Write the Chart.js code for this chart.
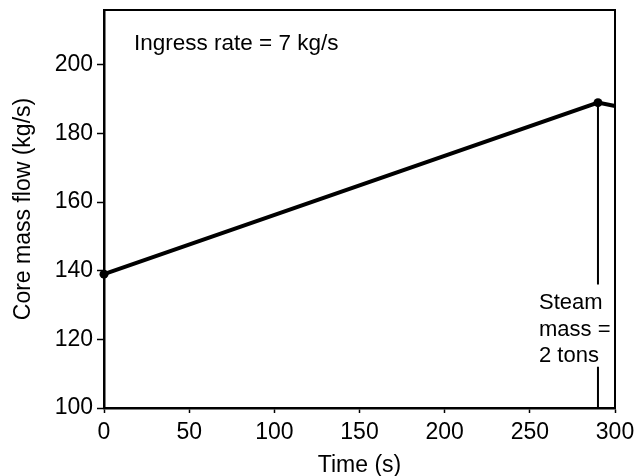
<!DOCTYPE html>
<html>
<head>
<meta charset="utf-8">
<script src="https://cdn.jsdelivr.net/npm/chart.js@4"></script>
<style>
  html, body { margin: 0; padding: 0; background: #fff; }
  #chart { display: block; }
</style>
</head>
<body>
<canvas id="chart" width="640" height="476"></canvas>
<script>
// curve
const timeS = [0, 290, 300];
const coreFlow = [139, 189, 188];
const markerRadius = [4.5, 4.5, 0];

// vertical marker at the steam-mass point (gap where the label sits)
const markerTime = [290, 290, 290, 290, 290];
const markerFlow = [189, 136, null, 112, 100];

const xTicks = [0, 50, 100, 150, 200, 250, 300];
const yTicks = [100, 120, 140, 160, 180, 200];

const ingressText = 'Ingress rate = 7 kg/s';
const steamText = ['Steam', 'mass =', '2 tons'];

const FONT = "'Liberation Sans', Arial, sans-serif";

const toPoints = (xs, ys) => xs.map((x, i) => ({ x: x, y: ys[i] }));

const framePlugin = {
    id: 'frame',
    afterDraw(chart) {
        const ctx = chart.ctx;
        const a = chart.chartArea;
        const xs = chart.scales.x;
        const ys = chart.scales.y;
        ctx.save();
        ctx.strokeStyle = '#000';
        ctx.lineWidth = 2;
        ctx.beginPath();
        ctx.moveTo(a.left, a.top);
        ctx.lineTo(a.right, a.top);
        ctx.lineTo(a.right, a.bottom);
        ctx.stroke();

        ctx.fillStyle = '#000';
        ctx.font = '22.5px ' + FONT;
        ctx.textBaseline = 'middle';
        ctx.textAlign = 'left';
        ctx.fillText(ingressText, a.left + 30, a.top + 34);

        ctx.font = '22px ' + FONT;
        let ty = ys.getPixelForValue(130.5);
        steamText.forEach(function(t) {
            ctx.fillText(t, xs.getPixelForValue(290) - 59, ty);
            ty += 26.5;
        });
        ctx.restore();
    }
};

const config = {
    type: 'line',
    data: {
        datasets: [{
            label: 'Core mass flow',
            data: toPoints(timeS, coreFlow),
            borderColor: '#000',
            backgroundColor: '#000',
            borderWidth: 4,
            pointRadius: markerRadius,
            pointBorderWidth: 0,
            clip: false,
            tension: 0
        }, {
            label: 'Steam mass marker',
            data: toPoints(markerTime, markerFlow),
            borderColor: '#000',
            borderWidth: 2,
            pointRadius: 0,
            spanGaps: false
        }]
    },
    plugins: [framePlugin],
    options: {
        responsive: false,
        animation: false,
        layout: {
            padding: { top: 10, right: 25, left: 0, bottom: 0 }
        },
        plugins: {
            legend: { display: false },
            tooltip: { enabled: false }
        },
        scales: {
            x: {
                type: 'linear',
                min: 0,
                max: 300,
                afterBuildTicks: function(scale) {
                    scale.ticks = xTicks.map(v => ({ value: v }));
                },
                afterFit: function(scale) {
                    scale.height = 68;
                    scale.paddingLeft = 0;
                    scale.paddingRight = 0;
                },
                grid: {
                    drawOnChartArea: false,
                    color: '#000',
                    tickLength: 5,
                    tickWidth: 1.5
                },
                border: { display: true, color: '#000', width: 2.5 },
                ticks: {
                    color: '#000',
                    font: { family: FONT, size: 23 },
                    padding: 6,
                    maxRotation: 0
                },
                title: {
                    display: true,
                    text: 'Time (s)',
                    color: '#000',
                    font: { family: FONT, size: 23 },
                    padding: { top: 0, bottom: -3 }
                }
            },
            y: {
                type: 'linear',
                min: 100,
                max: 216,
                afterBuildTicks: function(scale) {
                    scale.ticks = yTicks.map(v => ({ value: v }));
                },
                afterFit: function(scale) {
                    scale.width = 104;
                    scale.paddingTop = 0;
                    scale.paddingBottom = 0;
                },
                grid: {
                    drawOnChartArea: false,
                    color: '#000',
                    tickLength: 7,
                    tickWidth: 1.5
                },
                border: { display: true, color: '#000', width: 2.5 },
                ticks: {
                    color: '#000',
                    font: { family: FONT, size: 23 },
                    padding: 4
                },
                title: {
                    display: true,
                    text: 'Core mass flow (kg/s)',
                    color: '#000',
                    font: { family: FONT, size: 23 },
                    padding: { top: 10, bottom: 0 }
                }
            }
        }
    }
};

var flowChart = new Chart(document.getElementById('chart'), config);
</script>
</body>
</html>
